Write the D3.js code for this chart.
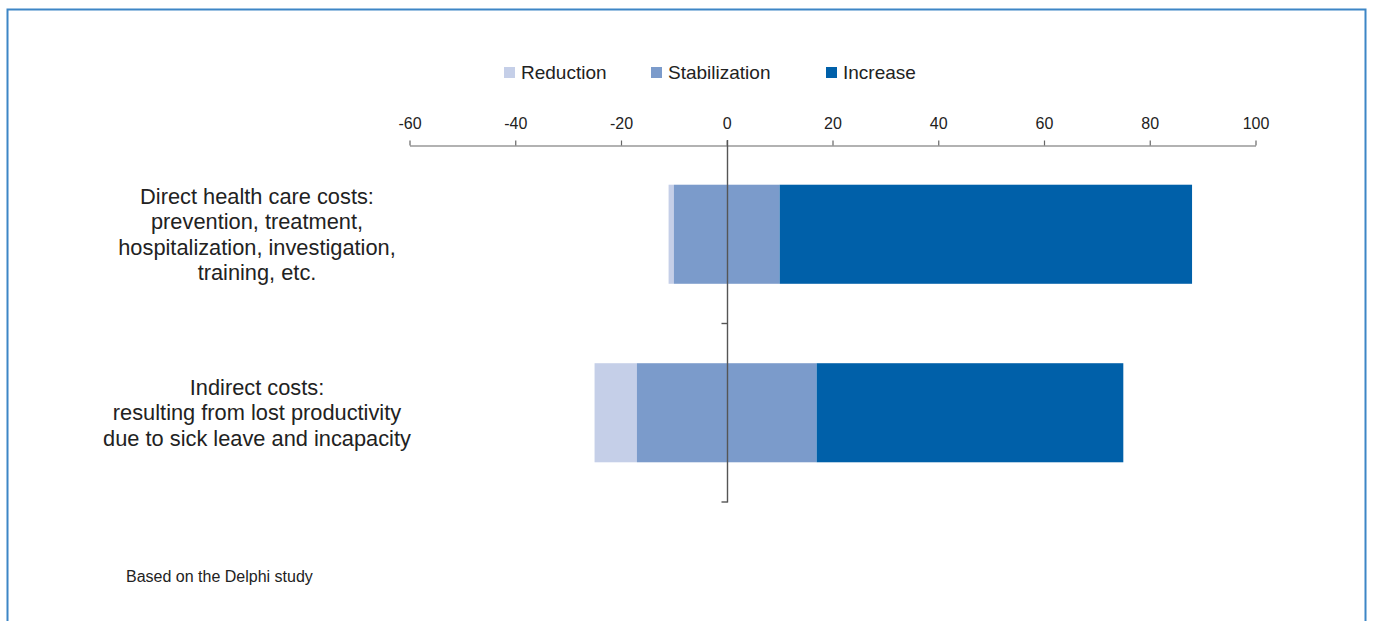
<!DOCTYPE html>
<html>
<head>
<meta charset="utf-8">
<script src="https://cdn.jsdelivr.net/npm/d3@7"></script>
<style>
  html, body { margin: 0; padding: 0; background: #fff; }
  svg { display: block; font-family: "Liberation Sans", Arial, Helvetica, sans-serif; }
</style>
</head>
<body>
<svg id="chart" width="1373" height="621"></svg>
<script>
// Expected change in costs (% of respondents)
const categories = [
  "Direct health care costs:\nprevention, treatment,\nhospitalization, investigation,\ntraining, etc.",
  "Indirect costs:\nresulting from lost productivity\ndue to sick leave and incapacity"
];
const seriesNames = ["Reduction", "Stabilization", "Increase"];
const reduction = [1, 8];
const stabilization = [20, 34];
const increase = [78, 58];
const tickValues = [-60, -40, -20, 0, 20, 40, 60, 80, 100];
const note = "Based on the Delphi study";

const colors = { Reduction: "#c5cfe8", Stabilization: "#7b9bcb", Increase: "#0060a9" };

const svg = d3.select("#chart");
const W = 1373, H = 621;

// outer frame
svg.append("path")
  .attr("d", `M7.5,${H + 2} V9.5 H1365.5 V${H + 2}`)
  .attr("fill", "none")
  .attr("stroke", "#3d86c6")
  .attr("stroke-width", 2);

const x = d3.scaleLinear().domain([-60, 100]).range([409.5, 1255.5]);
const y = d3.scaleBand().domain(categories).range([145, 502]).paddingInner(0.445).paddingOuter(0.2225);

// stacked segments: stabilization is split around zero, reduction to its left, increase to its right
const rows = categories.map((c, i) => {
  const s0 = -stabilization[i] / 2, s1 = stabilization[i] / 2;
  return [
    { key: "Reduction", cat: c, x0: s0 - reduction[i], x1: s0 },
    { key: "Stabilization", cat: c, x0: s0, x1: s1 },
    { key: "Increase", cat: c, x0: s1, x1: s1 + increase[i] }
  ];
}).flat();

svg.append("g").selectAll("rect")
  .data(rows)
  .join("rect")
  .attr("x", d => x(d.x0))
  .attr("width", d => x(d.x1) - x(d.x0))
  .attr("y", d => y(d.cat))
  .attr("height", y.bandwidth())
  .attr("fill", d => colors[d.key]);

// top axis
const axisColor = "#666";
const gx = svg.append("g")
  .attr("transform", "translate(0,145.5)")
  .call(d3.axisTop(x).tickValues(tickValues).tickSize(5).tickSizeOuter(0).tickPadding(12)
    .tickFormat(d => String(d)));
gx.select(".domain").attr("stroke", axisColor).attr("stroke-width", 1.2);
gx.selectAll(".tick line").attr("stroke", axisColor).attr("stroke-width", 1.2);
gx.selectAll(".tick text").attr("fill", "#222").attr("font-size", 16)
  .attr("font-family", "Liberation Sans, Arial, sans-serif");

// vertical zero axis with category separators
const zx = Math.round(x(0)) + 0.5;
const gy = svg.append("g");
gy.append("line").attr("x1", zx).attr("x2", zx).attr("y1", 140).attr("y2", 502.5)
  .attr("stroke", "#555").attr("stroke-width", 1.4);
const seps = [(y.range()[0] + y.range()[1]) / 2, y.range()[1]];
gy.selectAll("line.sep").data(seps).join("line").attr("class", "sep")
  .attr("x1", zx - 6).attr("x2", zx).attr("y1", d => d).attr("y2", d => d)
  .attr("stroke", "#555").attr("stroke-width", 1.4);

// category labels
const lh = 25.5;
svg.append("g").selectAll("text")
  .data(categories)
  .join("text")
  .attr("text-anchor", "middle")
  .attr("font-size", 21.8)
  .attr("fill", "#222")
  .each(function (d) {
    const lines = d.split("\n");
    const cy = y(d) + y.bandwidth() / 2;
    const startY = cy - (lines.length - 1) * lh / 2 + 7.5;
    d3.select(this).selectAll("tspan").data(lines).join("tspan")
      .attr("x", 257).attr("y", (l, j) => startY + j * lh).text(l => l);
  });

// legend
const legendX = [504, 651, 826];
const lg = svg.append("g").selectAll("g").data(seriesNames).join("g")
  .attr("transform", (d, i) => `translate(${legendX[i]},67)`);
lg.append("rect").attr("width", 11).attr("height", 11).attr("fill", d => colors[d]);
lg.append("text").attr("x", 17).attr("y", 12).attr("font-size", 19).attr("fill", "#222").text(d => d);

// note
svg.append("text").attr("x", 126).attr("y", 582).attr("font-size", 16).attr("fill", "#222").text(note);
</script>
</body>
</html>
